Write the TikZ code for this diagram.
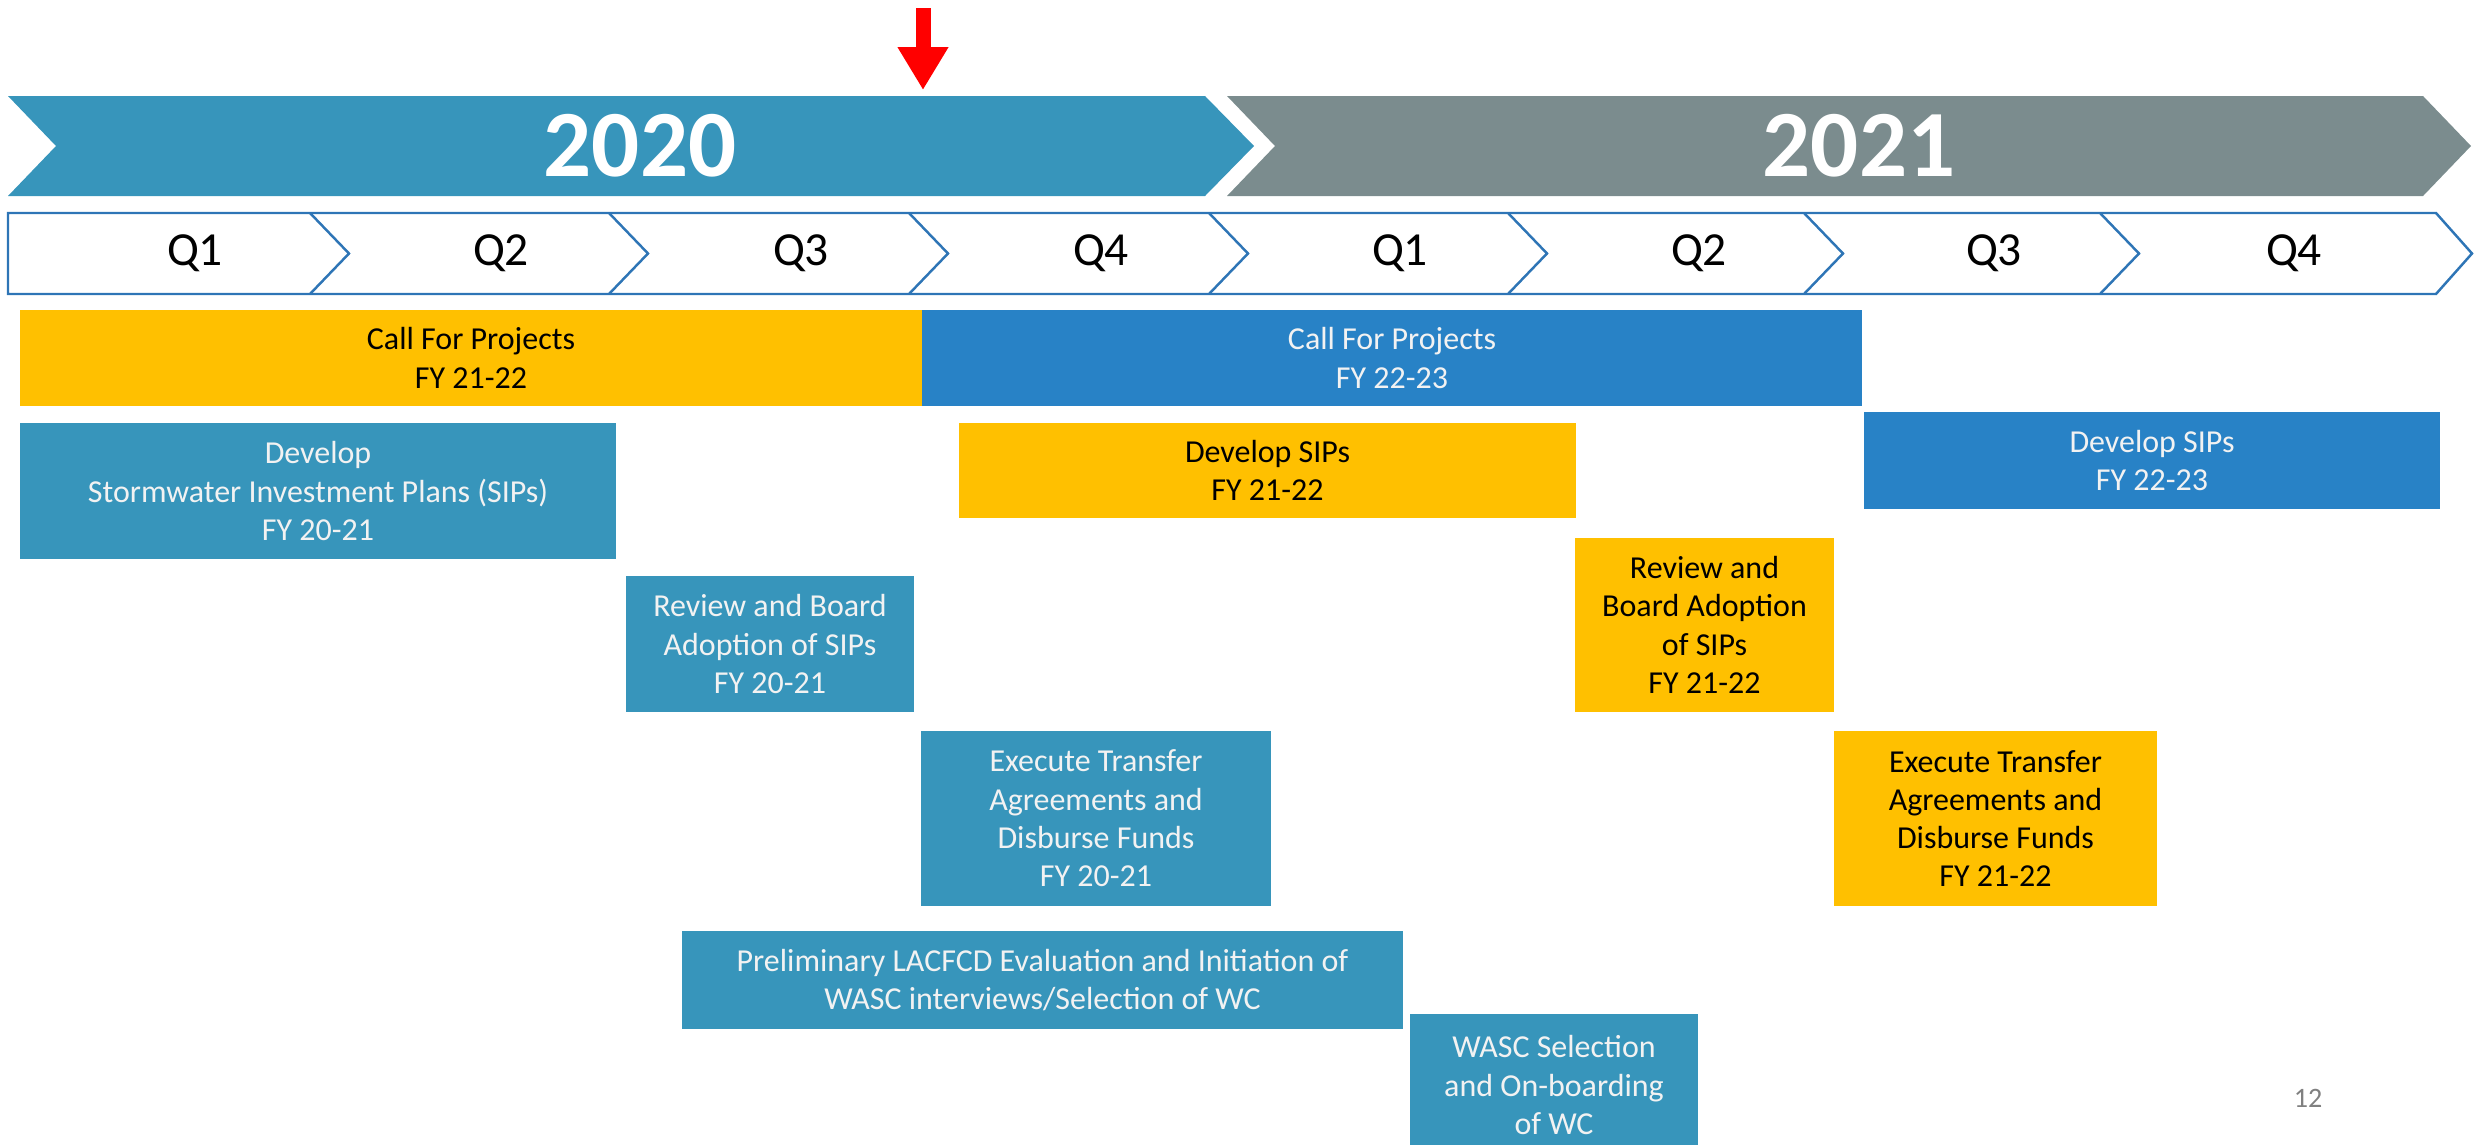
\documentclass[tikz,border=0pt]{standalone}
\usepackage{fontspec}
\setmainfont{Carlito}
\usetikzlibrary{positioning, arrows.meta}
\definecolor{tealbar}{HTML}{3795BB}
\definecolor{slate}{HTML}{7B8C8E}
\definecolor{amber}{HTML}{FFC000}
\definecolor{azure}{HTML}{2882C6}
\definecolor{qline}{HTML}{2E75B6}
\definecolor{paper}{HTML}{F2F2F2}

\begin{document}
\begin{tikzpicture}[x=0.1mm, y=-0.1mm,
      task/.style={rectangle, inner sep=0pt, align=center,
        font=\fontsize{9.1}{10.9}\selectfont},
      cur/.style={task, fill=tealbar, text=paper},
      nxt/.style={task, fill=amber, text=black},
      fut/.style={task, fill=azure, text=paper},
      yearlbl/.style={text=white, font=\fontsize{27}{30}\selectfont\bfseries},
      qtr/.style={font=\fontsize{13.5}{16}\selectfont},
      nowarrow/.style={-{Triangle[width=4.8mm, length=4.3mm]}, red, line width=1.5mm}]
    \clip (0,0) rectangle (2474,1145);

    % today marker
    \coordinate (now top) at (923,8);
    \coordinate (now tip) at (923,90);
    \draw[nowarrow] (now top) -- (now tip);

    % year banners
    \fill[tealbar] (8,96) -- (1205,96) -- (1254,146) -- (1205,196) -- (8,196) -- (56,146) -- cycle;
    \fill[slate] (1227,96) -- (2423,96) -- (2471,146) -- (2423,196) -- (1227,196) -- (1275,146) -- cycle;
    \node[yearlbl] (y2020) at (640,146) {2020};
    \node[yearlbl] (y2021) at (1859,146) {2021};

    % quarters
    \draw[qline, line width=0.7pt] (8,213) -- (2436,213) -- (2472,253.5) -- (2436,294) -- (8,294) -- cycle;
    \foreach \x in {310,609,909,1209,1508,1804,2100}
      \draw[qline, line width=0.7pt] (\x,213) -- (\x+39,253.5) -- (\x,294);
    \foreach \x/\q [count=\i] in {195/Q1, 501/Q2, 801/Q3, 1101/Q4, 1400/Q1, 1699/Q2, 1994/Q3, 2294/Q4}
      \node[qtr] (q\i) at (\x,253.5) {\q};

    % tasks
    \node[nxt, minimum width=90.2mm, minimum height=9.6mm] (cfpa) at (471,358) {Call For Projects\\FY 21-22};
    \node[fut, minimum width=94.0mm, minimum height=9.6mm] (cfpb) at (1392,358) {Call For Projects\\FY 22-23};
    \node[cur, minimum width=59.6mm, minimum height=13.6mm] (deva) at (318,491) {Develop\\Stormwater Investment Plans (SIPs)\\FY 20-21};
    \node[nxt, minimum width=61.7mm, minimum height=9.5mm] (devb) at (1267.5,470.5) {Develop SIPs\\FY 21-22};
    \node[fut, minimum width=57.6mm, minimum height=9.7mm] (devc) at (2152,460.5) {Develop SIPs\\FY 22-23};
    \node[cur, minimum width=28.8mm, minimum height=13.6mm] (reva) at (770,644) {Review and Board\\Adoption of SIPs\\FY 20-21};
    \node[nxt, minimum width=25.9mm, minimum height=17.4mm] (revb) at (1704.5,625) {Review and\\Board Adoption\\of SIPs\\FY 21-22};
    \node[cur, minimum width=35.0mm, minimum height=17.5mm] (exea) at (1096,818.5) {Execute Transfer\\Agreements and\\Disburse Funds\\FY 20-21};
    \node[nxt, minimum width=32.3mm, minimum height=17.5mm] (exeb) at (1995.5,818.5) {Execute Transfer\\Agreements and\\Disburse Funds\\FY 21-22};
    \node[cur, minimum width=72.1mm, minimum height=9.8mm] (prelim) at (1042.5,980) {Preliminary LACFCD Evaluation and Initiation of\\WASC interviews/Selection of WC};
    \node[cur, minimum width=28.8mm, minimum height=14.2mm] (wasc) at (1554,1085) {WASC Selection\\and On-boarding\\of WC};

    \node[text=gray, font=\fontsize{8}{10}\selectfont] (page) at (2308,1098) {12};
\end{tikzpicture}
\end{document}
